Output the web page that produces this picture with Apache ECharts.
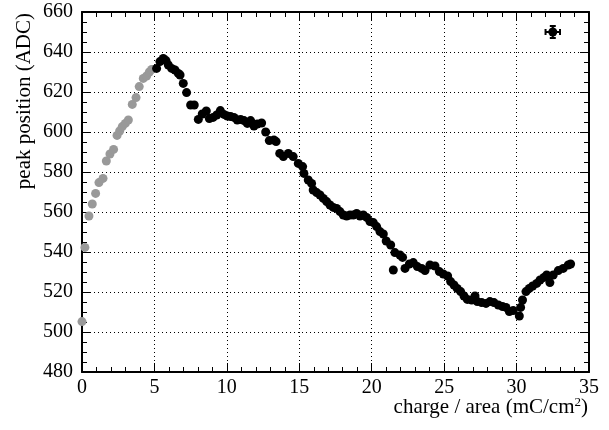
<!DOCTYPE html>
<html>
<head>
<meta charset="utf-8">
<script src="https://cdn.jsdelivr.net/npm/echarts@6/dist/echarts.min.js"></script>
<style>
html,body{margin:0;padding:0;background:#fff;}
#chart{width:609px;height:430px;}
</style>
</head>
<body>
<div id="chart"></div>
<script>
// Gray series (early points)
const grayX = [0, 0.2, 0.48, 0.71, 0.94, 1.17, 1.45, 1.68, 1.93, 2.18, 2.42, 2.6, 2.78, 2.99, 3.2, 3.47, 3.73, 3.95, 4.23, 4.46, 4.65, 4.81];
const grayY = [505.2, 542.3, 558, 564, 569.3, 574.7, 576.8, 585.5, 589, 591.3, 598.3, 600.5, 602.7, 604.3, 606, 613.8, 617.2, 622.7, 626.8, 628, 630, 631.3];

// Black series
const blackX = [5.15, 5.38, 5.61, 5.8, 5.96, 6.19, 6.42, 6.65, 6.77, 6.99, 7.22, 7.5, 7.75, 8.03, 8.3, 8.58, 8.79, 9.05, 9.3, 9.55, 9.8, 10.03, 10.26, 10.49, 10.72, 10.95, 11.18, 11.41, 11.64, 11.87, 12.1, 12.4, 12.68, 12.93, 13.25, 13.4, 13.65, 13.9, 14.24, 14.58, 14.93, 15.23, 15.32, 15.62, 15.85, 15.96, 16.2, 16.43, 16.66, 16.89, 17.12, 17.35, 17.58, 17.81, 18.04, 18.27, 18.5, 18.73, 18.96, 19.19, 19.42, 19.65, 19.88, 20.11, 20.34, 20.57, 20.8, 21.0, 21.31, 21.49, 21.6, 21.95, 22.13, 22.3, 22.6, 22.87, 23.15, 23.45, 23.68, 24.02, 24.37, 24.67, 24.94, 25.24, 25.45, 25.68, 25.9, 26.14, 26.37, 26.6, 26.9, 27.13, 27.29, 27.59, 27.89, 28.16, 28.44, 28.74, 29.03, 29.27, 29.5, 29.77, 30.19, 30.28, 30.41, 30.65, 30.88, 31.11, 31.39, 31.62, 31.89, 32.08, 32.3, 32.53, 32.88, 33.22, 33.57, 33.73];
const blackY = [631.8, 635.2, 636.8, 635.7, 633.5, 631.8, 631, 629.3, 628.5, 624.3, 619.7, 613.5, 613.5, 606.3, 609, 610.5, 606.7, 607.3, 608.5, 610.7, 608.8, 608, 607.7, 607.3, 606, 606.3, 605.7, 604.3, 605.7, 603, 604, 604.5, 600, 595.7, 596, 595.2, 589.3, 587.7, 589.3, 587.7, 584.3, 582.7, 579.3, 576, 574.3, 571, 569.7, 568.5, 566.8, 565.2, 563.5, 562.3, 561.8, 560.2, 558.5, 558, 558.5, 558.5, 559.3, 558, 558.5, 557.3, 555.2, 554.7, 552.7, 550.2, 549, 545.5, 543.5, 531, 539.7, 538.5, 537.3, 531.8, 534, 534.7, 532.7, 531.8, 530.7, 533.5, 533, 530.2, 529, 528, 525.2, 523.5, 521.8, 520.2, 518, 516.3, 516, 518, 515.2, 514.7, 514.3, 515.2, 514.7, 513.5, 512.7, 512.3, 510.2, 510.7, 508, 512.3, 516, 520.2, 521.8, 523, 524.3, 526, 527.3, 528.5, 524.7, 528.5, 530.7, 531.8, 533.5, 534];

// Reference error marker (top right)
const errX = [32.5];
const errY = [650];
const errDX = [0.5];
const errDY = [3];

// Axis ticks
const xTicks = [0, 5, 10, 15, 20, 25, 30, 35];
const yTicks = [480, 500, 520, 540, 560, 580, 600, 620, 640, 660];

const FONT = 'Liberation Serif';
const chart = echarts.init(document.getElementById('chart'), null, {renderer: 'canvas'});

function zip(a, b) { return a.map((v, i) => [v, b[i]]); }

const axisCommon = {
  type: 'value',
  axisLine: {show: true, onZero: false, lineStyle: {color: '#000', width: 2}},
  axisTick: {show: true, inside: true, length: 9, lineStyle: {color: '#000', width: 1}},
  minorTick: {show: true, length: 5, lineStyle: {color: '#000', width: 1}},
};

const option = {
  animation: false,
  backgroundColor: '#fff',
  grid: {left: 82, right: 20, top: 12, bottom: 58, containLabel: false},
  xAxis: [
    Object.assign({}, axisCommon, {
      position: 'bottom',
      min: xTicks[0], max: xTicks[xTicks.length - 1], interval: 5,
      minorTick: Object.assign({}, axisCommon.minorTick, {splitNumber: 5}),
      splitLine: {show: true, lineStyle: {color: '#000', type: [1, 3], width: 1}},
      axisLabel: {color: '#000', fontFamily: FONT, fontSize: 20, margin: 6}
    }),
    Object.assign({}, axisCommon, {
      position: 'top',
      min: xTicks[0], max: xTicks[xTicks.length - 1], interval: 5,
      minorTick: Object.assign({}, axisCommon.minorTick, {splitNumber: 5}),
      splitLine: {show: false},
      axisLabel: {show: false}
    })
  ],
  yAxis: [
    Object.assign({}, axisCommon, {
      position: 'left',
      min: yTicks[0], max: yTicks[yTicks.length - 1], interval: 20,
      minorTick: Object.assign({}, axisCommon.minorTick, {splitNumber: 4}),
      splitLine: {show: true, lineStyle: {color: '#000', type: [1, 3], width: 1}},
      axisLabel: {color: '#000', fontFamily: FONT, fontSize: 20, margin: 9}
    }),
    Object.assign({}, axisCommon, {
      position: 'right',
      min: yTicks[0], max: yTicks[yTicks.length - 1], interval: 20,
      minorTick: Object.assign({}, axisCommon.minorTick, {splitNumber: 4}),
      splitLine: {show: false},
      axisLabel: {show: false}
    })
  ],
  series: [
    {
      type: 'scatter', xAxisIndex: 0, yAxisIndex: 0,
      symbol: 'circle', symbolSize: 9,
      itemStyle: {color: '#999999', opacity: 1},
      data: zip(grayX, grayY)
    },
    {
      type: 'scatter', xAxisIndex: 0, yAxisIndex: 0,
      symbol: 'circle', symbolSize: 9,
      itemStyle: {color: '#000000', opacity: 1},
      data: zip(blackX, blackY)
    },
    {
      type: 'custom', xAxisIndex: 0, yAxisIndex: 0,
      data: errX.map((x, i) => [x, errY[i], errDX[i], errDY[i]]),
      renderItem: function (params, api) {
        const x = api.value(0), y = api.value(1), dx = api.value(2), dy = api.value(3);
        const c = api.coord([x, y]);
        const l = api.coord([x - dx, y]);
        const r = api.coord([x + dx, y]);
        const t = api.coord([x, y + dy]);
        const b = api.coord([x, y - dy]);
        const cap = 3;
        const st = {stroke: '#000', lineWidth: 2};
        return {
          type: 'group',
          children: [
            {type: 'line', shape: {x1: l[0], y1: l[1], x2: r[0], y2: r[1]}, style: st},
            {type: 'line', shape: {x1: t[0], y1: t[1], x2: b[0], y2: b[1]}, style: st},
            {type: 'line', shape: {x1: l[0], y1: l[1] - cap, x2: l[0], y2: l[1] + cap}, style: st},
            {type: 'line', shape: {x1: r[0], y1: r[1] - cap, x2: r[0], y2: r[1] + cap}, style: st},
            {type: 'line', shape: {x1: t[0] - cap, y1: t[1], x2: t[0] + cap, y2: t[1]}, style: st},
            {type: 'line', shape: {x1: b[0] - cap, y1: b[1], x2: b[0] + cap, y2: b[1]}, style: st},
            {type: 'circle', shape: {cx: c[0], cy: c[1], r: 4.5}, style: {fill: '#000'}}
          ]
        };
      }
    }
  ],
  graphic: [
    {
      type: 'text', right: 21, top: 396,
      style: {
        text: 'charge / area (mC/cm{sup|2})',
        fill: '#000',
        font: '21px "Liberation Serif"',
        rich: {sup: {fontSize: 13, fontFamily: FONT, verticalAlign: 'top', padding: [0, 0, 10, 0]}}
      }
    },
    {
      type: 'text', x: 24, y: 13, rotation: Math.PI / 2,
      style: {
        text: 'peak position (ADC)',
        fill: '#000',
        font: '21px "Liberation Serif"',
        align: 'right', verticalAlign: 'middle'
      }
    }
  ]
};
chart.setOption(option);
</script>
</body>
</html>
